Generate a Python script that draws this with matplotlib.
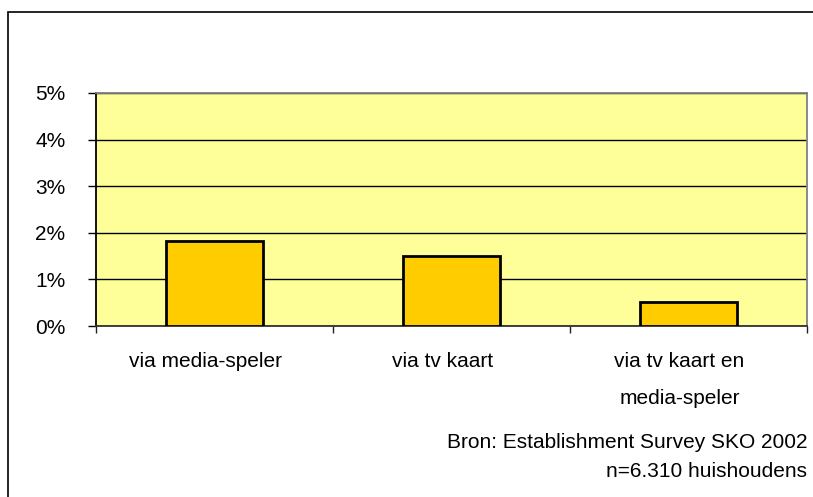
import matplotlib.pyplot as plt
from matplotlib.patches import Rectangle
from matplotlib.ticker import FuncFormatter, MultipleLocator
from matplotlib.transforms import ScaledTranslation

categorieen = ['via media-speler', 'via tv kaart', 'via tv kaart en\nmedia-speler']
percentages = [1.82, 1.50, 0.52]
bron = 'Bron: Establishment Survey SKO 2002\nn=6.310 huishoudens'

plt.rcParams['font.family'] = ['Liberation Sans', 'DejaVu Sans']
plt.rcParams['font.size'] = 15

W, H = 813, 497
fig = plt.figure(figsize=(W / 100, H / 100), dpi=100)
fig.patch.set_facecolor('white')

# kader rond de grafiek (loopt door buiten beeld)
fig.patches.append(Rectangle((8 / W, -0.1), 1.2, 1 - 12 / H + 0.1, transform=fig.transFigure,
                             fill=False, edgecolor='black', linewidth=1.2))

ax = fig.add_axes([96 / W, 1 - 326 / H, (807 - 96) / W, (326 - 93) / H])
ax.set_facecolor('#FFFF99')

x = range(len(categorieen))
ax.bar(x, percentages, width=0.41, color='#FFCC00', edgecolor='black', linewidth=2, zorder=3)

ax.set_xlim(-0.5, len(categorieen) - 0.5)
ax.set_ylim(0, 5)
ax.yaxis.set_major_locator(MultipleLocator(1))
ax.yaxis.set_major_formatter(FuncFormatter(lambda v, p: f'{v:.0f}%'))
ax.grid(axis='y', color='black', linewidth=1, zorder=1)

# categorienamen tussen de tickjes
ax.set_xticks([-0.5, 0.5, 1.5, 2.5])
ax.set_xticklabels([])
ax.set_xticks(list(x), minor=True)
ax.set_xticklabels(categorieen, minor=True, linespacing=2.15, va='top')
ax.tick_params(axis='x', which='minor', length=0, pad=19)
ax.tick_params(axis='x', which='major', length=5, color='#202020', width=1)
ax.tick_params(axis='y', length=6, width=1, pad=16)
verschuiving = ScaledTranslation(-0.09, 0, fig.dpi_scale_trans)
for t in ax.get_xticklabels(minor=True):
    t.set_transform(t.get_transform() + verschuiving)

ax.spines['left'].set_color('black')
ax.spines['bottom'].set_color('#303030')
ax.spines['top'].set_color('#808080')
ax.spines['right'].set_color('#808080')
for s in ax.spines.values():
    s.set_linewidth(1.3)

fig.text(807 / W, 1 - 433 / H, bron, ha='right', va='top', fontsize=15, linespacing=1.65)

plt.savefig('out.png', dpi=100)
